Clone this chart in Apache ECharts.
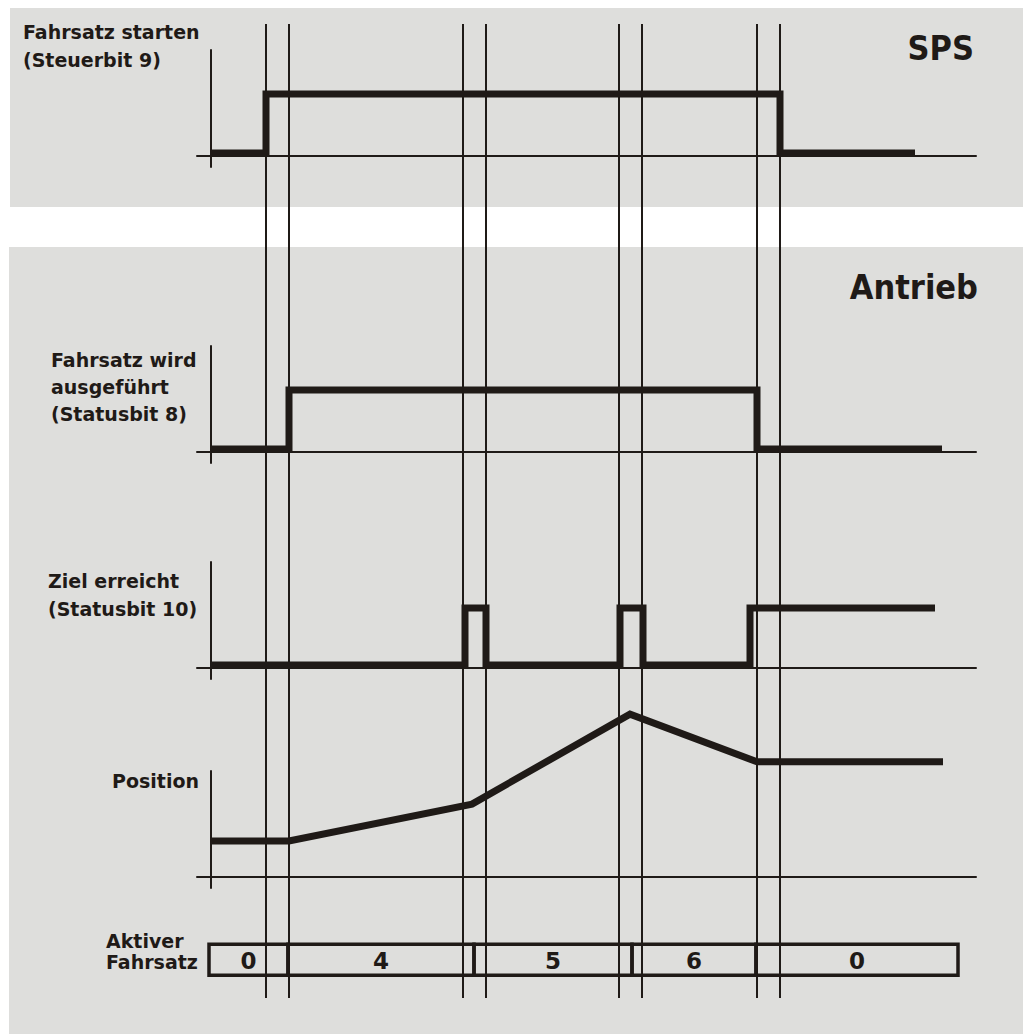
<!DOCTYPE html>
<html>
<head>
<meta charset="utf-8">
<script src="https://cdn.jsdelivr.net/npm/echarts@6/dist/echarts.min.js"></script>
<style>
  html, body { margin: 0; padding: 0; background: #ffffff; }
  #chart { width: 1023px; height: 1034px; }
</style>
</head>
<body>
<div id="chart"></div>
<script>
// ---- timing data (time in ms from the start of the record) ----
// instants marked by the thin vertical guide lines
const eventTimes = [55, 78, 252, 275, 408, 431, 546, 569];

// level changes of the bits: [time, new level]
const startBlock    = [[0, 0], [55, 1], [569, 0], [704, 0]];                          // Steuerbit 9
const blockRunning  = [[0, 0], [78, 1], [546, 0], [731, 0]];                          // Statusbit 8
const targetReached = [[0, 0], [254, 1], [275, 0], [409, 1], [432, 0], [539, 1], [724, 1]]; // Statusbit 10

// axis position: [time, position in mm]
const positionTrace = [[0, 20], [78, 20], [261, 40.5], [419, 90.5], [546, 64], [732, 64]];

// active motion block
const blockStart  = [-2, 77, 263, 421, 545];
const blockEnd    = [77, 263, 421, 545, 747];
const blockNumber = [0, 4, 5, 6, 0];

// ---- styling ----
const INK = '#1f1a17';
const PANEL = '#dededc';
const FONT = '"DejaVu Sans", Verdana, sans-serif';
const FONT_WIDE_TITLE = '"DejaVu Sans Condensed", "DejaVu Sans", sans-serif';
const T_MIN = -14, T_MAX = 765;
const GRID_LEFT = 197, GRID_RIGHT = 47;

// plot strips: axis extent, pixel of value 0, pixels per unit
const strips = [
  { top: 50,  bottom: 167, base: 156, zeroPx: 153, unitPx: 59, data: startBlock,    step: 'end' },
  { top: 346, bottom: 463, base: 452, zeroPx: 449, unitPx: 59, data: blockRunning,  step: 'end' },
  { top: 562, bottom: 679, base: 668, zeroPx: 665, unitPx: 57, data: targetReached, step: 'end' },
  { top: 771, bottom: 888, base: 877, zeroPx: 877, unitPx: 1.8, data: positionTrace, step: false }
];

const grids = [], xAxes = [], yAxes = [], series = [];

strips.forEach((s, i) => {
  grids.push({ left: GRID_LEFT, right: GRID_RIGHT, top: s.top, height: s.bottom - s.top });
  xAxes.push({
    gridIndex: i, type: 'value', min: T_MIN, max: T_MAX, position: 'bottom',
    offset: -(s.bottom - s.base),
    axisLine: { show: true, onZero: false, lineStyle: { color: INK, width: 2 } },
    axisTick: { show: false }, axisLabel: { show: false }, splitLine: { show: false }
  });
  yAxes.push({
    gridIndex: i, type: 'value',
    min: -(s.bottom - s.zeroPx) / s.unitPx,
    max: (s.zeroPx - s.top) / s.unitPx,
    position: 'left', offset: -(0 - T_MIN),
    axisLine: { show: true, onZero: false, lineStyle: { color: INK, width: 2 } },
    axisTick: { show: false }, axisLabel: { show: false }, splitLine: { show: false }
  });
  series.push({
    type: 'line', xAxisIndex: i, yAxisIndex: i, data: s.data, step: s.step,
    symbol: 'none', clip: false, silent: true, z: 5,
    lineStyle: { color: INK, width: 7, cap: 'butt', join: 'miter' }
  });
});

// guide lines across the whole diagram
const gi = strips.length;
grids.push({ left: GRID_LEFT, right: GRID_RIGHT, top: 24, bottom: 36 });
xAxes.push({ gridIndex: gi, type: 'value', min: T_MIN, max: T_MAX, show: false });
yAxes.push({ gridIndex: gi, type: 'value', min: 0, max: 1, show: false });
series.push({
  type: 'custom', xAxisIndex: gi, yAxisIndex: gi, silent: true, z: 4,
  data: eventTimes.map(t => [t]),
  encode: { x: 0 },
  renderItem: (params, api) => {
    const p0 = api.coord([api.value(0), 1]);
    const p1 = api.coord([api.value(0), 0]);
    return { type: 'line', shape: { x1: p0[0], y1: p0[1], x2: p1[0], y2: p1[1] },
             style: { stroke: INK, lineWidth: 2 } };
  }
});

// active block bar
const bi = gi + 1;
grids.push({ left: GRID_LEFT, right: GRID_RIGHT, top: 944.3, height: 31 });
xAxes.push({ gridIndex: bi, type: 'value', min: T_MIN, max: T_MAX, show: false });
yAxes.push({ gridIndex: bi, type: 'value', min: 0, max: 1, show: false });
series.push({
  type: 'custom', xAxisIndex: bi, yAxisIndex: bi, silent: true, z: 6, clip: false,
  data: blockStart.map((s, i) => [s, blockEnd[i], blockNumber[i]]),
  encode: { x: [0, 1] },
  renderItem: (params, api) => {
    const a = api.coord([api.value(0), 1]);
    const b = api.coord([api.value(1), 0]);
    return {
      type: 'group',
      children: [
        { type: 'rect', shape: { x: a[0], y: a[1], width: b[0] - a[0], height: b[1] - a[1] },
          style: { fill: 'none', stroke: INK, lineWidth: 3.5 } },
        { type: 'text',
          style: { text: String(api.value(2)), x: (a[0] + b[0]) / 2, y: (a[1] + b[1]) / 2 + 1,
                   align: 'center', verticalAlign: 'middle', fill: INK,
                   font: 'bold 23px ' + FONT } }
      ]
    };
  }
});

// panel backgrounds and texts
function label(text, x, y, opts) {
  const o = Object.assign({ size: 19, align: 'left', va: 'top', lh: 27, font: FONT }, opts || {});
  return { type: 'text', x: x, y: y, z: 10, silent: true,
           style: { text: text, fill: INK, font: 'bold ' + o.size + 'px ' + o.font,
                    align: o.align, verticalAlign: o.va, lineHeight: o.lh } };
}

const graphics = [
  { type: 'rect', z: -10, silent: true, shape: { x: 10, y: 8, width: 1013, height: 199 }, style: { fill: PANEL } },
  { type: 'rect', z: -10, silent: true, shape: { x: 9, y: 247, width: 1014, height: 787 }, style: { fill: PANEL } },
  label('Fahrsatz starten\n(Steuerbit 9)', 23, 17.5, { lh: 28 }),
  label('SPS', 974, 48, { size: 34, align: 'right', va: 'middle', font: FONT_WIDE_TITLE }),
  label('Antrieb', 978, 287, { size: 34, align: 'right', va: 'middle', font: FONT_WIDE_TITLE }),
  label('Fahrsatz wird\nausgeführt\n(Statusbit 8)', 51, 346.5, { lh: 27 }),
  label('Ziel erreicht\n(Statusbit 10)', 48, 566.5, { lh: 28 }),
  label('Position', 199, 781, { align: 'right', va: 'middle' }),
  label('Aktiver\nFahrsatz', 106, 930.5, { lh: 21 })
];

const chart = echarts.init(document.getElementById('chart'), null, { renderer: 'svg' });
chart.setOption({
  animation: false,
  backgroundColor: '#ffffff',
  grid: grids,
  xAxis: xAxes,
  yAxis: yAxes,
  series: series,
  graphic: { elements: graphics }
});
</script>
</body>
</html>
